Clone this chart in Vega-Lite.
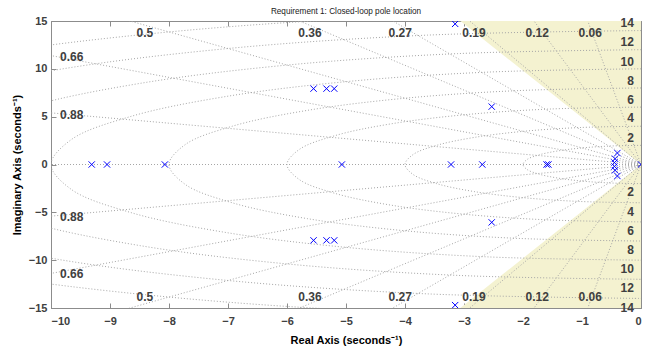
{
 "$schema": "https://vega.github.io/schema/vega-lite/v6.json",
 "width": 590, "height": 287,
 "autosize": "none",
 "padding": {"left": 51, "top": 21, "right": 13, "bottom": 41},
 "background": "white",
 "config": {"view": {"stroke": "#8c8c8c", "strokeWidth": 1}, "font": "Liberation Sans"},
 "title": {"text": "Requirement 1: Closed-loop pole location", "fontSize": 8.2, "fontWeight": "normal", "font": "Liberation Sans", "color": "#1a1a1a", "offset": -1},
 "datasets": {
  "region": [
   {"side": "up", "x": -3.062, "y": 15, "y2": 15},
   {"side": "up", "x": 0, "y": 0, "y2": 15},
   {"side": "dn", "x": -3.062, "y": -15, "y2": -15},
   {"side": "dn", "x": 0, "y": 0, "y2": -15}
  ],
  "circles": [
   {"r":2,"o":0,"x":0,"y":2},{"r":2,"o":1,"x":-0.518,"y":1.932},{"r":2,"o":2,"x":-1,"y":1.732},{"r":2,"o":3,"x":-1.414,"y":1.414},{"r":2,"o":4,"x":-1.732,"y":1},{"r":2,"o":5,"x":-1.932,"y":0.518},{"r":2,"o":6,"x":-2,"y":0},{"r":2,"o":7,"x":-1.932,"y":-0.518},{"r":2,"o":8,"x":-1.732,"y":-1},{"r":2,"o":9,"x":-1.414,"y":-1.414},{"r":2,"o":10,"x":-1,"y":-1.732},{"r":2,"o":11,"x":-0.518,"y":-1.932},{"r":2,"o":12,"x":0,"y":-2},
   {"r":4,"o":0,"x":0,"y":4},{"r":4,"o":1,"x":-1.035,"y":3.864},{"r":4,"o":2,"x":-2,"y":3.464},{"r":4,"o":3,"x":-2.828,"y":2.828},{"r":4,"o":4,"x":-3.464,"y":2},{"r":4,"o":5,"x":-3.864,"y":1.035},{"r":4,"o":6,"x":-4,"y":0},{"r":4,"o":7,"x":-3.864,"y":-1.035},{"r":4,"o":8,"x":-3.464,"y":-2},{"r":4,"o":9,"x":-2.828,"y":-2.828},{"r":4,"o":10,"x":-2,"y":-3.464},{"r":4,"o":11,"x":-1.035,"y":-3.864},{"r":4,"o":12,"x":0,"y":-4},
   {"r":6,"o":0,"x":0,"y":6},{"r":6,"o":1,"x":-1.553,"y":5.796},{"r":6,"o":2,"x":-3,"y":5.196},{"r":6,"o":3,"x":-4.243,"y":4.243},{"r":6,"o":4,"x":-5.196,"y":3},{"r":6,"o":5,"x":-5.796,"y":1.553},{"r":6,"o":6,"x":-6,"y":0},{"r":6,"o":7,"x":-5.796,"y":-1.553},{"r":6,"o":8,"x":-5.196,"y":-3},{"r":6,"o":9,"x":-4.243,"y":-4.243},{"r":6,"o":10,"x":-3,"y":-5.196},{"r":6,"o":11,"x":-1.553,"y":-5.796},{"r":6,"o":12,"x":0,"y":-6},
   {"r":8,"o":0,"x":0,"y":8},{"r":8,"o":1,"x":-2.071,"y":7.727},{"r":8,"o":2,"x":-4,"y":6.928},{"r":8,"o":3,"x":-5.657,"y":5.657},{"r":8,"o":4,"x":-6.928,"y":4},{"r":8,"o":5,"x":-7.727,"y":2.071},{"r":8,"o":6,"x":-8,"y":0},{"r":8,"o":7,"x":-7.727,"y":-2.071},{"r":8,"o":8,"x":-6.928,"y":-4},{"r":8,"o":9,"x":-5.657,"y":-5.657},{"r":8,"o":10,"x":-4,"y":-6.928},{"r":8,"o":11,"x":-2.071,"y":-7.727},{"r":8,"o":12,"x":0,"y":-8},
   {"r":10,"o":0,"x":0,"y":10},{"r":10,"o":1,"x":-2.588,"y":9.659},{"r":10,"o":2,"x":-5,"y":8.66},{"r":10,"o":3,"x":-7.071,"y":7.071},{"r":10,"o":4,"x":-8.66,"y":5},{"r":10,"o":5,"x":-9.659,"y":2.588},{"r":10,"o":6,"x":-10,"y":0},{"r":10,"o":7,"x":-9.659,"y":-2.588},{"r":10,"o":8,"x":-8.66,"y":-5},{"r":10,"o":9,"x":-7.071,"y":-7.071},{"r":10,"o":10,"x":-5,"y":-8.66},{"r":10,"o":11,"x":-2.588,"y":-9.659},{"r":10,"o":12,"x":0,"y":-10},
   {"r":12,"o":0,"x":0,"y":12},{"r":12,"o":1,"x":-3.106,"y":11.591},{"r":12,"o":2,"x":-6,"y":10.392},{"r":12,"o":3,"x":-8.485,"y":8.485},{"r":12,"o":4,"x":-10.392,"y":6},{"r":12,"o":5,"x":-11.591,"y":3.106},{"r":12,"o":6,"x":-12,"y":0},{"r":12,"o":7,"x":-11.591,"y":-3.106},{"r":12,"o":8,"x":-10.392,"y":-6},{"r":12,"o":9,"x":-8.485,"y":-8.485},{"r":12,"o":10,"x":-6,"y":-10.392},{"r":12,"o":11,"x":-3.106,"y":-11.591},{"r":12,"o":12,"x":0,"y":-12},
   {"r":14,"o":0,"x":0,"y":14},{"r":14,"o":1,"x":-3.623,"y":13.523},{"r":14,"o":2,"x":-7,"y":12.124},{"r":14,"o":3,"x":-9.899,"y":9.899},{"r":14,"o":4,"x":-12.124,"y":7},{"r":14,"o":5,"x":-13.523,"y":3.623},{"r":14,"o":6,"x":-14,"y":0},{"r":14,"o":7,"x":-13.523,"y":-3.623},{"r":14,"o":8,"x":-12.124,"y":-7},{"r":14,"o":9,"x":-9.899,"y":-9.899},{"r":14,"o":10,"x":-7,"y":-12.124},{"r":14,"o":11,"x":-3.623,"y":-13.523},{"r":14,"o":12,"x":0,"y":-14},
   {"r":16,"o":0,"x":0,"y":16},{"r":16,"o":1,"x":-4.141,"y":15.455},{"r":16,"o":2,"x":-8,"y":13.856},{"r":16,"o":3,"x":-11.314,"y":11.314},{"r":16,"o":4,"x":-13.856,"y":8},{"r":16,"o":5,"x":-15.455,"y":4.141},{"r":16,"o":6,"x":-16,"y":0},{"r":16,"o":7,"x":-15.455,"y":-4.141},{"r":16,"o":8,"x":-13.856,"y":-8},{"r":16,"o":9,"x":-11.314,"y":-11.314},{"r":16,"o":10,"x":-8,"y":-13.856},{"r":16,"o":11,"x":-4.141,"y":-15.455},{"r":16,"o":12,"x":0,"y":-16}
  ],
  "zeta": [
   {"z":0.06,"x":0,"y":0,"x2":-1.8,"y2":29.95},{"z":0.06,"x":0,"y":0,"x2":-1.8,"y2":-29.95},
   {"z":0.12,"x":0,"y":0,"x2":-3.6,"y2":29.78},{"z":0.12,"x":0,"y":0,"x2":-3.6,"y2":-29.78},
   {"z":0.19,"x":0,"y":0,"x2":-5.7,"y2":29.45},{"z":0.19,"x":0,"y":0,"x2":-5.7,"y2":-29.45},
   {"z":0.27,"x":0,"y":0,"x2":-8.1,"y2":28.89},{"z":0.27,"x":0,"y":0,"x2":-8.1,"y2":-28.89},
   {"z":0.36,"x":0,"y":0,"x2":-10.8,"y2":27.99},{"z":0.36,"x":0,"y":0,"x2":-10.8,"y2":-27.99},
   {"z":0.5,"x":0,"y":0,"x2":-15,"y2":25.98},{"z":0.5,"x":0,"y":0,"x2":-15,"y2":-25.98},
   {"z":0.66,"x":0,"y":0,"x2":-19.8,"y2":22.54},{"z":0.66,"x":0,"y":0,"x2":-19.8,"y2":-22.54},
   {"z":0.88,"x":0,"y":0,"x2":-26.4,"y2":14.25},{"z":0.88,"x":0,"y":0,"x2":-26.4,"y2":-14.25},
   {"z":1,"x":0,"y":0,"x2":-30,"y2":0}
  ],
  "zlabels": [
   {"t":"0.5","x":-8.41,"y":13.75},{"t":"0.36","x":-5.61,"y":13.75},{"t":"0.27","x":-4.08,"y":13.75},{"t":"0.19","x":-2.83,"y":13.75},{"t":"0.12","x":-1.76,"y":13.75},{"t":"0.06","x":-0.86,"y":13.75},
   {"t":"0.5","x":-8.41,"y":-13.9},{"t":"0.36","x":-5.61,"y":-13.9},{"t":"0.27","x":-4.08,"y":-13.9},{"t":"0.19","x":-2.83,"y":-13.9},{"t":"0.12","x":-1.76,"y":-13.9},{"t":"0.06","x":-0.86,"y":-13.9},
   {"t":"0.66","x":-9.65,"y":11.2},{"t":"0.88","x":-9.65,"y":5.18},{"t":"0.66","x":-9.65,"y":-11.4},{"t":"0.88","x":-9.65,"y":-5.5}
  ],
  "wlabels": [
   {"t":"14","x":-0.12,"y":14.76},{"t":"12","x":-0.12,"y":12.77},{"t":"10","x":-0.12,"y":10.75},{"t":"8","x":-0.12,"y":8.76},{"t":"6","x":-0.12,"y":6.75},{"t":"4","x":-0.12,"y":4.83},{"t":"2","x":-0.12,"y":2.74},
   {"t":"2","x":-0.12,"y":-2.84},{"t":"4","x":-0.12,"y":-4.93},{"t":"6","x":-0.12,"y":-6.91},{"t":"8","x":-0.12,"y":-8.93},{"t":"10","x":-0.12,"y":-10.95},{"t":"12","x":-0.12,"y":-12.93},{"t":"14","x":-0.12,"y":-14.96}
  ],
  "poles": [
   {"x":-9.31,"y":0},{"x":-9.05,"y":0},{"x":-8.07,"y":0},
   {"x":-5.55,"y":7.93},{"x":-5.55,"y":-7.93},{"x":-5.33,"y":7.93},{"x":-5.33,"y":-7.93},{"x":-5.2,"y":7.93},{"x":-5.2,"y":-7.93},
   {"x":-5.07,"y":0},
   {"x":-3.15,"y":14.7},{"x":-3.15,"y":-14.7},
   {"x":-3.22,"y":0},{"x":-2.69,"y":0},
   {"x":-2.53,"y":6.05},{"x":-2.53,"y":-6.05},
   {"x":-1.6,"y":0},{"x":-1.57,"y":0},
   {"x":-0.4,"y":1.2},{"x":-0.4,"y":-1.2},{"x":-0.44,"y":0.6},{"x":-0.44,"y":-0.6},{"x":-0.45,"y":0.2},{"x":-0.45,"y":-0.2},
   {"x":0,"y":0}
  ]
 },
 "layer": [
  {
   "data": {"name": "region"},
   "mark": {"type": "area", "color": "#f4f2d0", "opacity": 1, "clip": true},
   "encoding": {
    "x": {"field": "x", "type": "quantitative", "scale": {"domain": [-10, 0], "nice": false, "zero": false},
      "axis": {"orient": "bottom", "values": [-10,-9,-8,-7,-6,-5,-4,-3,-2,-1,0], "grid": false,
        "title": "Real Axis (seconds⁻¹)", "titleFontSize": 11, "titleFontWeight": "bold", "titleColor": "#000000", "titlePadding": 8,
        "labelFontSize": 11, "labelFontWeight": "bold", "labelColor": "#404040", "labelPadding": 12,
        "tickSize": -5, "tickColor": "#8c8c8c", "domainColor": "#8c8c8c"}},
    "y": {"field": "y", "type": "quantitative", "scale": {"domain": [-15, 15], "nice": false, "zero": false},
      "axis": {"orient": "left", "values": [-15,-10,-5,0,5,10,15], "grid": false,
        "title": "Imaginary Axis (seconds⁻¹)", "titleFontSize": 11, "titleFontWeight": "bold", "titleColor": "#000000", "titlePadding": 6,
        "labelFontSize": 11, "labelFontWeight": "bold", "labelColor": "#404040", "labelPadding": 9,
        "tickSize": -5, "tickColor": "#8c8c8c", "domainColor": "#8c8c8c"}},
    "y2": {"field": "y2"},
    "detail": {"field": "side"}
   }
  },
  {
   "data": {"name": "circles"},
   "mark": {"type": "line", "interpolate": "catmull-rom", "color": "#a6a6a6", "strokeWidth": 1, "strokeDash": [1, 2], "clip": true},
   "encoding": {
    "x": {"field": "x", "type": "quantitative", "scale": {"domain": [-10, 0], "nice": false, "zero": false}, "axis": null},
    "y": {"field": "y", "type": "quantitative", "scale": {"domain": [-15, 15], "nice": false, "zero": false}, "axis": null},
    "detail": {"field": "r"},
    "order": {"field": "o"}
   }
  },
  {
   "data": {"name": "zeta"},
   "mark": {"type": "rule", "color": "#a6a6a6", "strokeWidth": 1, "strokeDash": [1, 2], "clip": true},
   "encoding": {
    "x": {"field": "x", "type": "quantitative", "scale": {"domain": [-10, 0], "nice": false, "zero": false}, "axis": null},
    "y": {"field": "y", "type": "quantitative", "scale": {"domain": [-15, 15], "nice": false, "zero": false}, "axis": null},
    "x2": {"field": "x2"},
    "y2": {"field": "y2"}
   }
  },
  {
   "data": {"name": "zlabels"},
   "mark": {"type": "text", "font": "Liberation Sans", "fontSize": 12, "fontWeight": "bold", "color": "#404040", "align": "center", "baseline": "middle"},
   "encoding": {
    "x": {"field": "x", "type": "quantitative", "scale": {"domain": [-10, 0], "nice": false, "zero": false}, "axis": null},
    "y": {"field": "y", "type": "quantitative", "scale": {"domain": [-15, 15], "nice": false, "zero": false}, "axis": null},
    "text": {"field": "t"}
   }
  },
  {
   "data": {"name": "wlabels"},
   "mark": {"type": "text", "font": "Liberation Sans", "fontSize": 12, "fontWeight": "bold", "color": "#404040", "align": "right", "baseline": "middle"},
   "encoding": {
    "x": {"field": "x", "type": "quantitative", "scale": {"domain": [-10, 0], "nice": false, "zero": false}, "axis": null},
    "y": {"field": "y", "type": "quantitative", "scale": {"domain": [-15, 15], "nice": false, "zero": false}, "axis": null},
    "text": {"field": "t"}
   }
  },
  {
   "data": {"name": "poles"},
   "mark": {"type": "point", "shape": "M-1,-1L1,1M-1,1L1,-1", "filled": false, "color": "#0000ff", "strokeWidth": 1, "size": 40, "opacity": 1, "clip": true},
   "encoding": {
    "x": {"field": "x", "type": "quantitative", "scale": {"domain": [-10, 0], "nice": false, "zero": false},
      "axis": {"orient": "top", "values": [-10,-9,-8,-7,-6,-5,-4,-3,-2,-1,0], "labels": false, "title": null, "grid": false, "domain": false, "tickSize": -5, "tickColor": "#8c8c8c"}},
    "y": {"field": "y", "type": "quantitative", "scale": {"domain": [-15, 15], "nice": false, "zero": false},
      "axis": {"orient": "right", "values": [-15,-10,-5,0,5,10,15], "labels": false, "title": null, "grid": false, "domain": false, "tickSize": -5, "tickColor": "#8c8c8c"}}
   }
  }
 ],
 "resolve": {"axis": {"x": "independent", "y": "independent"}}
}
